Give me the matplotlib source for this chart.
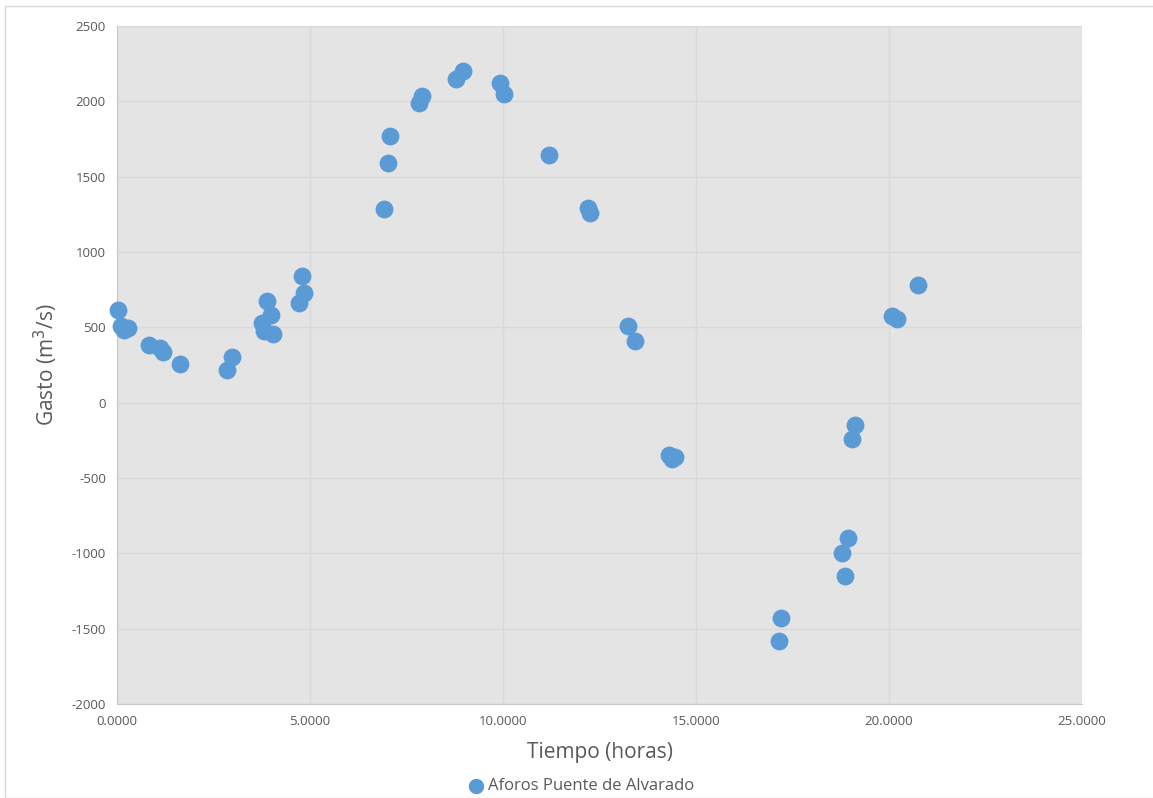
import matplotlib.pyplot as plt
from matplotlib.patches import Rectangle

# Aforos: tiempo (horas) vs gasto (m3/s)
tiempo = [0.02, 0.10, 0.19, 0.29, 0.84, 1.11, 1.20, 1.64, 2.84, 2.97,
          3.75, 3.82, 3.88, 3.99, 4.05, 4.71, 4.78, 4.85,
          6.92, 7.01, 7.07, 7.83, 7.90, 8.77, 8.96, 9.92, 10.03, 11.19,
          12.20, 12.25, 13.24, 13.42, 14.30, 14.38, 14.45,
          17.15, 17.21, 18.78, 18.87, 18.95, 19.03, 19.12,
          20.09, 20.20, 20.76]
gasto = [616, 512, 480, 496, 381, 361, 337, 257, 215, 301,
         527, 479, 674, 583, 457, 660, 838, 727,
         1288, 1591, 1769, 1988, 2033, 2146, 2203, 2125, 2048, 1642,
         1294, 1257, 512, 408, -350, -377, -358,
         -1585, -1427, -1000, -1148, -900, -240, -145,
         574, 558, 782]

plt.rcParams['font.family'] = ['Open Sans', 'DejaVu Sans']
plt.rcParams['axes.unicode_minus'] = False

fig = plt.figure(figsize=(11.53, 7.98), dpi=100)
fig.patches.append(Rectangle((5 / 1153, 0), 1.0, 1 - 6 / 798, transform=fig.transFigure,
                             fill=False, edgecolor="#d9d9d9", linewidth=1))
ax = fig.add_axes([0.1015, 0.1178, 0.8369, 0.8496])
ax.set_facecolor("#e4e4e4")

ax.scatter(tiempo, gasto, s=140, color="#5b9bd5", zorder=3, clip_on=False,
           label="Aforos Puente de Alvarado")

ax.set_xlim(0, 25)
ax.set_ylim(-2000, 2500)
ax.set_xticks(range(0, 26, 5))
ax.set_xticklabels(["{:.4f}".format(v) for v in range(0, 26, 5)])
ax.set_yticks(range(-2000, 2501, 500))
ax.grid(True, color="#d9d9d9", linewidth=1)
ax.set_axisbelow(True)
for s in ["top", "right"]:
    ax.spines[s].set_visible(False)
for s in ["left", "bottom"]:
    ax.spines[s].set_color("#c8c8c8")
ax.tick_params(length=0, labelsize=9.5, colors="#595959", pad=8)

ax.set_xlabel("Tiempo (horas)", fontsize=15, color="#595959", labelpad=10)
ax.set_ylabel("Gasto (m$^3$/s)", fontsize=15, color="#595959", labelpad=8)

fig.legend(loc="center", bbox_to_anchor=(0.5, 1 - 786 / 798), frameon=False,
           fontsize=12, handletextpad=-0.3, markerscale=0.85,
           labelcolor="#595959", borderpad=0.1)

plt.savefig("out.png", dpi=100)
